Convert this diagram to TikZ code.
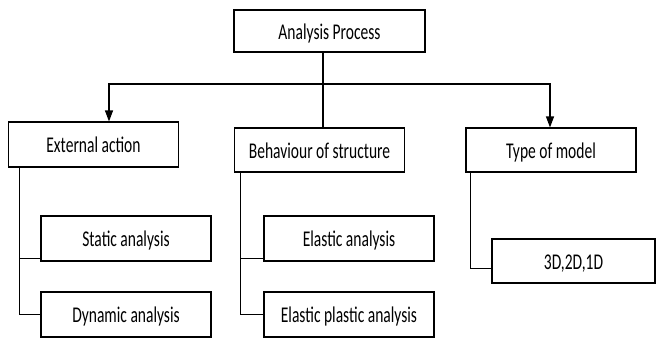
\documentclass[tikz,border=0pt]{standalone}
\usepackage{fontspec}
\setmainfont{Carlito}[FakeStretch=0.69]
\usetikzlibrary{arrows.meta,calc}
\begin{document}
\begin{tikzpicture}[x=1pt,y=-1pt,
  box/.style={draw,line width=1.1pt,minimum width=170pt,minimum height=45pt,inner sep=0pt,
    text height=18pt,text depth=2pt,font=\fontsize{22.5}{25}\selectfont},
  conn/.style={line width=1.1pt},
  arr/.style={conn,-{Triangle[length=11pt,width=8pt]}}]
\useasboundingbox (0,0) rectangle (656,340);
\node[box,minimum width=191pt,minimum height=42pt] (ap) at (329.5,31) {Analysis Process};
\node[box] (ea) at (93.5,144.5) {External action};
\node[box,minimum height=44pt] (bs) at (319.5,150) {Behaviour of structure};
\node[box,minimum height=44pt] (tm) at (551,150) {Type of model};
\node[box] (sa) at (126,238.5) {Static analysis};
\node[box] (da) at (126,314.5) {Dynamic analysis};
\node[box] (el) at (349,238.5) {Elastic analysis};
\node[box] (ep) at (349,314.5) {Elastic plastic analysis};
\node[box,minimum width=163pt,minimum height=44pt] (d3) at (573.5,261) {3D,2D,1D};
% top connectors
\coordinate (j) at (323,84);
\coordinate (jl) at (109,84);
\coordinate (jr) at (550,84);
\draw[conn] (ap.south -| j) -- (bs.north -| j);
\draw[arr] (j) -- (jl) -- (jl |- ea.north);
\draw[arr] (j) -- (jr) -- (jr |- tm.north);
% left column
\coordinate (ex) at (19,0);
\coordinate (sab) at (41,258);
\draw[conn,line width=0.9pt] (ea.south -| ex) |- (da.west);
\draw[conn,line width=0.9pt] (sab -| ex) -- (sab);
% middle column
\coordinate (bx) at (240,0);
\coordinate (elb) at (264,258);
\draw[conn,line width=0.9pt] (bs.south -| bx) |- (ep.west);
\draw[conn,line width=0.9pt] (elb -| bx) -- (elb);
% right column
\coordinate (tx) at (470,0);
\coordinate (d3b) at (492,268);
\draw[conn,line width=0.9pt] (tm.south -| tx) |- (d3b);
\end{tikzpicture}
\end{document}
